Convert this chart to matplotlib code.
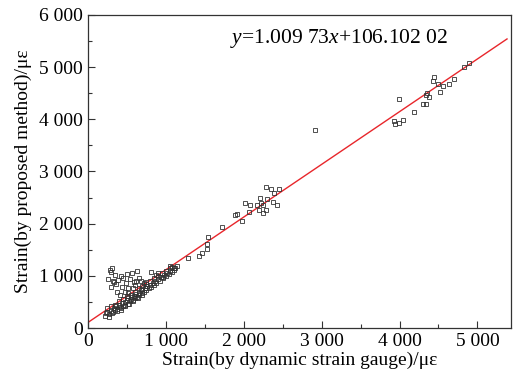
import numpy as np
import matplotlib.pyplot as plt
from matplotlib.ticker import MultipleLocator

plt.rcParams['font.family'] = ['Liberation Serif', 'DejaVu Serif']
plt.rcParams['mathtext.fontset'] = 'custom'
plt.rcParams['mathtext.rm'] = 'Liberation Serif'
plt.rcParams['mathtext.it'] = 'Liberation Serif:italic'

# Strain by dynamic strain gauge (x) vs strain by proposed method (y), in micro-strain
gauge_low = [220, 250, 270, 300, 310, 330, 350, 360, 380, 400, 410, 420, 440, 450, 470, 480,
             500, 510, 520, 540, 550, 560, 580, 590, 600, 620, 630, 650, 660, 680, 690, 700,
             720, 730, 750, 760, 780, 800, 810, 830, 850, 860, 880, 900, 920, 940, 960, 980,
             1000, 1020, 1040, 1060, 1080, 1100, 1120, 1140,
             300, 350, 400, 450, 500, 550, 600, 650, 700, 750, 800, 850, 900, 950, 1000, 1050,
             270, 320, 380, 430, 480, 530, 580, 640, 700,
             310, 300, 345, 320, 260, 300, 360, 390, 420, 455, 500, 560, 630, 540, 590, 470,
             520, 810, 870, 960, 1050, 1080, 1110, 680, 720, 900, 280, 340, 240, 230,
             410, 440, 490, 610, 660, 580, 370, 620, 750, 520]
proposed_low = [230, 300, 260, 330, 280, 380, 340, 420, 360, 450, 400, 350, 480, 420, 500, 450,
                530, 470, 580, 510, 560, 600, 540, 620, 580, 650, 600, 680, 630, 720, 670, 740,
                700, 770, 730, 800, 760, 830, 790, 860, 820, 900, 870, 940, 900, 980, 950, 1010,
                990, 1060, 1030, 1100, 1080, 1120, 1150, 1180,
                420, 450, 520, 560, 620, 640, 700, 760, 800, 850, 900, 950, 1000, 1050, 1100, 1150,
                210, 300, 320, 390, 420, 470, 520, 570, 640,
                1150, 1070, 1010, 900, 930, 790, 850, 920, 1000, 950, 1030, 1050, 1090, 930, 880, 700,
                760, 1070, 1010, 980, 1190, 1170, 1150, 900, 860, 1060, 1110, 880, 380, 290,
                640, 780, 860, 830, 960, 760, 700, 900, 880, 680]

gauge_mid = [1290, 1430, 1470, 1530, 1530, 1540, 1720, 1890, 1910, 1980, 2020, 2070, 2080, 2170,
             2190, 2210, 2220, 2250, 2250, 2280, 2280, 2300, 2350, 2370, 2390, 2430, 2450, 2920]
proposed_mid = [1340, 1380, 1430, 1510, 1610, 1740, 1930, 2160, 2180, 2050, 2390, 2220, 2350, 2350,
                2270, 2500, 2390, 2200, 2350, 2270, 2700, 2470, 2660, 2410, 2580, 2350, 2660, 3800]

gauge_high = [3930, 3940, 3990, 4040, 3990, 4180, 4300, 4340, 4340, 4350, 4380, 4430, 4440,
              4490, 4520, 4560, 4630, 4700, 4830, 4890]
proposed_high = [3960, 3900, 3920, 3980, 4380, 4130, 4300, 4300, 4470, 4510, 4420, 4740, 4800,
                 4680, 4530, 4630, 4680, 4780, 5010, 5070]

slope = 1.00973
intercept = 106.10202

x_ticks = [0, 1000, 2000, 3000, 4000, 5000]
x_tick_labels = ['0', '1 000', '2 000', '3 000', '4 000', '5 000']
y_ticks = [0, 1000, 2000, 3000, 4000, 5000, 6000]
y_tick_labels = ['0', '1 000', '2 000', '3 000', '4 000', '5 000', '6 000']

gauge = np.array(gauge_low + gauge_mid + gauge_high)
proposed = np.array(proposed_low + proposed_mid + proposed_high)

fig = plt.figure(figsize=(5.14, 3.81), dpi=100)
ax = fig.add_axes([0.171, 0.139, 0.823, 0.822])

ax.plot(gauge, proposed, 's', ms=3.2, mfc='none', mec='#333333', mew=0.6, zorder=3)

fit_x = np.array([0, 5380])
ax.plot(fit_x, slope * fit_x + intercept, color='#e8262b', lw=1.0, zorder=2)

ax.text(1830, 5470, '$y$=1.009 73$x$+106.102 02', fontsize=15.5)

ax.set_xlim(0, 5430)
ax.set_ylim(0, 6000)
ax.set_xticks(x_ticks)
ax.set_xticklabels(x_tick_labels)
ax.set_yticks(y_ticks)
ax.set_yticklabels(y_tick_labels)
ax.xaxis.set_minor_locator(MultipleLocator(500))
ax.yaxis.set_minor_locator(MultipleLocator(500))
ax.tick_params(which='both', direction='in', labelsize=14, color='#333333')
ax.tick_params(which='major', length=5, width=0.8)
ax.tick_params(which='minor', length=3, width=0.8)
for sp in ax.spines.values():
    sp.set_color('#333333')
    sp.set_linewidth(0.9)

ax.set_xlabel('Strain(by dynamic strain gauge)/με', fontsize=14, labelpad=1)
ax.set_ylabel('Strain(by proposed method)/με', fontsize=14, labelpad=5)

fig.savefig('out.png', dpi=100)
